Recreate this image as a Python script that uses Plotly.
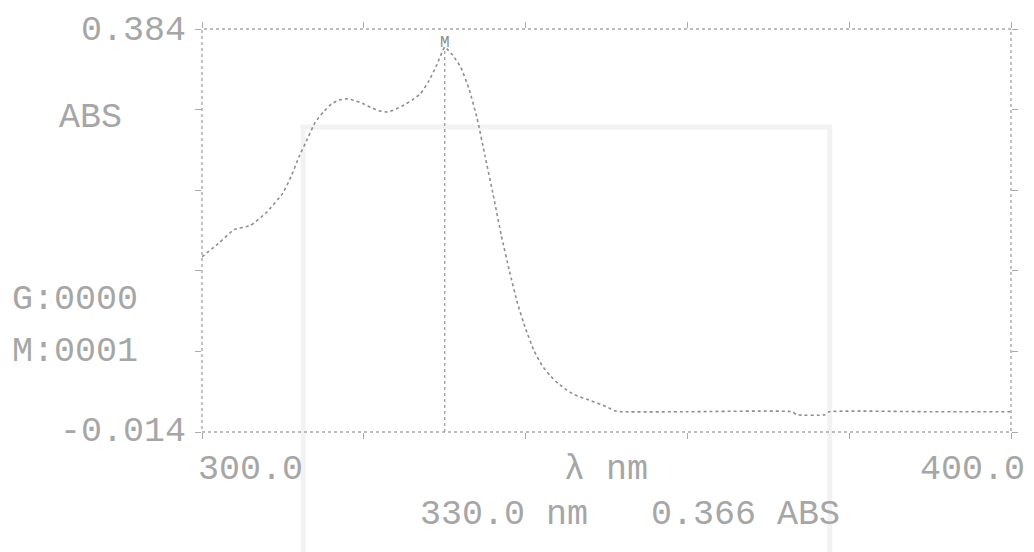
import plotly.graph_objects as go

# ---- data ----
wavelength_nm = [300, 302, 304, 306, 308, 310, 311, 312, 313, 314, 315, 316, 317, 318,
                 319, 320, 321, 322, 323, 324, 325, 326, 327, 328, 329, 330, 331, 332,
                 333, 334, 335, 336, 337, 338, 339, 340, 341, 342, 343, 344, 345, 346,
                 348, 350, 351, 352, 360, 373, 373.5, 377, 377.5, 390, 400]
absorbance = [0.159, 0.172, 0.186, 0.190, 0.203, 0.222, 0.238, 0.258, 0.275, 0.292, 0.302,
              0.310, 0.314, 0.315, 0.313, 0.310, 0.306, 0.303, 0.302, 0.305, 0.309, 0.314,
              0.320, 0.332, 0.348, 0.366, 0.358, 0.346, 0.325, 0.296, 0.258, 0.220, 0.180,
              0.145, 0.113, 0.088, 0.067, 0.052, 0.042, 0.034, 0.028, 0.023, 0.017, 0.011,
              0.007, 0.006, 0.006, 0.006, 0.003, 0.003, 0.006, 0.006, 0.006]

x_min, x_max = 300.0, 400.0
y_min, y_max = -0.014, 0.384
x_tick_step = 20
y_tick_count = 5

y_top_label = "0.384"
y_bottom_label = "-0.014"
y_unit_label = "ABS"
g_label = "G:0000"
m_label = "M:0001"
x_left_label = "300.0"
x_right_label = "400.0"
x_unit_label = "λ nm"
marker_label = "M"

peak_idx = max(range(len(absorbance)), key=lambda i: absorbance[i])
peak_nm = wavelength_nm[peak_idx]
peak_abs = absorbance[peak_idx]
readout = f"{peak_nm:.1f} nm   {peak_abs:.3f} ABS"

INK = "#a6a6a6"
FONT = "Liberation Mono"
FS = 35

fig = go.Figure()
fig.add_trace(go.Scatter(
    x=wavelength_nm, y=absorbance, mode="lines",
    line=dict(color="#8e8e8e", width=1.6, dash="dot", shape="spline", smoothing=0.4),
    hoverinfo="skip", showlegend=False,
))

# marker drop line from peak
fig.add_shape(type="line", xref="x", yref="y", x0=peak_nm, x1=peak_nm,
              y0=y_min, y1=peak_abs, line=dict(color="#9e9e9e", width=1.3, dash="dot"))

# dotted frame
fig.add_shape(type="rect", xref="paper", yref="paper", x0=0, x1=1, y0=0, y1=1,
              line=dict(color="#a8a8a8", width=1.4, dash="dot"))

# faint watermark frame
fig.add_shape(type="rect", xref="paper", yref="paper", x0=0.125, x1=0.776, y0=-0.35, y1=0.757,
              line=dict(color="#f2f2f2", width=5), layer="below")

ann = []
def txt(text, x, y, xanchor="center", yanchor="middle", size=FS, xref="paper", yref="paper"):
    ann.append(dict(text=text, x=x, y=y, xref=xref, yref=yref, xanchor=xanchor,
                    yanchor=yanchor, showarrow=False,
                    font=dict(family=FONT, size=size, color=INK)))

# screen-pixel helpers -> paper coords (plot area 202..1011 x, 29..432 y)
def px(xp):
    return (xp - 202) / 809.0
def py(yp):
    return (432 - yp) / 403.0

txt(y_top_label, px(188), py(31), xanchor="right")
txt(y_unit_label, px(57), py(118), xanchor="left")
txt(g_label, px(10), py(300), xanchor="left")
txt(m_label, px(10), py(352), xanchor="left")
txt(y_bottom_label, px(188), py(432), xanchor="right")
txt(x_left_label, px(250), py(470))
txt(x_unit_label, px(606), py(470))
txt(x_right_label, px(1027), py(470), xanchor="right")
txt(readout, px(630), py(515))
ann.append(dict(text=marker_label, x=peak_nm, y=peak_abs, xref="x", yref="y",
                showarrow=False, yanchor="middle", yshift=4,
                font=dict(family=FONT, size=16, color="#8a8a8a")))

# page body has an 8px margin: size the figure so the plot lands where the printout has it
fig.update_layout(
    width=1026, height=544,
    margin=dict(l=194, r=23, t=21, b=120),
    paper_bgcolor="#ffffff", plot_bgcolor="rgba(0,0,0,0)",
    annotations=ann, showlegend=False,
)
fig.update_xaxes(range=[x_min, x_max], tick0=x_min, dtick=x_tick_step, showgrid=False,
                 zeroline=False, showline=False, ticks="outside", ticklen=6,
                 tickcolor="#aaaaaa", tickwidth=1, mirror="ticks", showticklabels=False)
fig.update_yaxes(range=[y_min, y_max], tick0=y_min, dtick=(y_max - y_min) / y_tick_count,
                 showgrid=False, zeroline=False, showline=False, ticks="outside", ticklen=6,
                 tickcolor="#aaaaaa", tickwidth=1, mirror="ticks", showticklabels=False)

fig.write_html("out.html")
